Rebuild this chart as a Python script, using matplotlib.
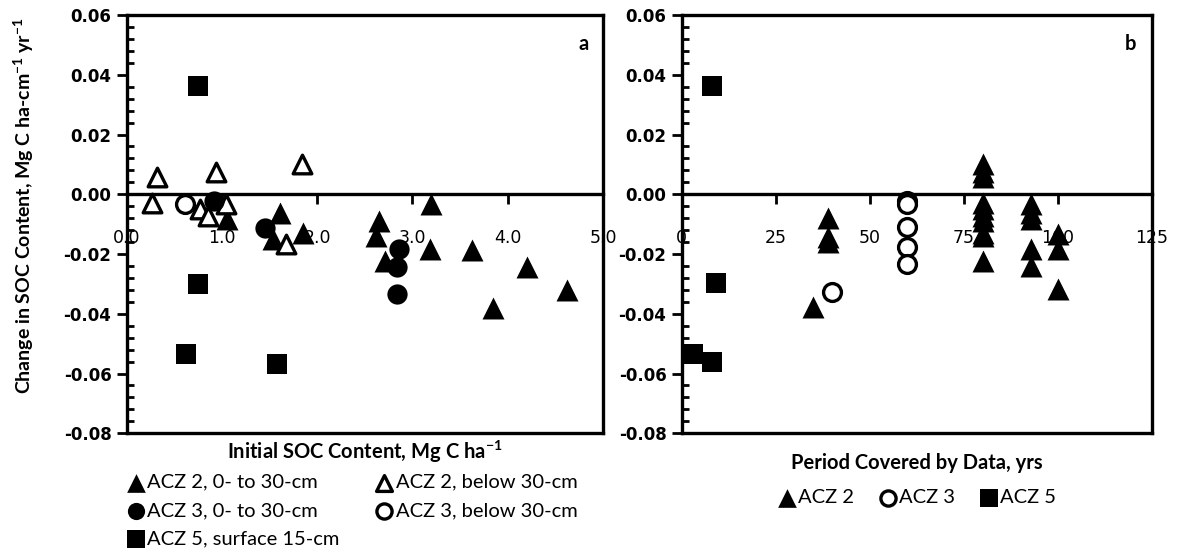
import matplotlib
matplotlib.use("Agg")
import matplotlib.pyplot as plt
from matplotlib.ticker import MultipleLocator, FormatStrFormatter

plt.rcParams['font.family'] = ['Lato', 'DejaVu Sans']
plt.rcParams['mathtext.fontset'] = 'custom'
plt.rcParams['mathtext.rm'] = 'Lato'
plt.rcParams['mathtext.bf'] = 'Lato:bold'

# panel a: initial SOC content (Mg C/ha) vs change in SOC
a_acz2_top_x = [1.05, 1.61, 1.54, 1.85, 2.65, 2.62, 2.71, 3.19, 3.18, 3.62, 4.20, 4.62, 3.84]
a_acz2_top_y = [-0.0083, -0.0064, -0.0150, -0.0128, -0.0089, -0.0139, -0.0222, -0.0033,
                -0.0183, -0.0187, -0.0242, -0.0320, -0.0381]
a_acz2_deep_x = [0.32, 0.27, 0.94, 1.84, 0.77, 0.85, 1.04, 1.67]
a_acz2_deep_y = [0.0058, -0.0028, 0.0076, 0.0100, -0.0050, -0.0072, -0.0031, -0.0167]
a_acz3_top_x = [0.92, 1.45, 2.86, 2.84, 2.84]
a_acz3_top_y = [-0.0022, -0.0114, -0.0183, -0.0242, -0.0333]
a_acz3_deep_x = [0.61]
a_acz3_deep_y = [-0.0033]
a_acz5_x = [0.75, 0.75, 0.62, 1.58]
a_acz5_y = [0.0363, -0.0300, -0.0536, -0.0568]

# panel b: period covered by data (yrs) vs change in SOC
b_acz2_x = [35, 39, 39, 39, 80, 80, 80, 80, 80, 80, 80, 80, 80, 80,
            93, 93, 93, 93, 93, 100, 100, 100]
b_acz2_y = [-0.0378, -0.0078, -0.0144, -0.0160, 0.0100, 0.0076, 0.0058, -0.0028,
            -0.0050, -0.0072, -0.0089, -0.0128, -0.0139, -0.0222,
            -0.0033, -0.0064, -0.0083, -0.0183, -0.0240, -0.0133, -0.0183, -0.0317]
b_acz3_x = [60, 60, 60, 60, 60, 40]
b_acz3_y = [-0.0022, -0.0033, -0.0111, -0.0178, -0.0233, -0.0328]
b_acz5_x = [8, 9, 3, 8]
b_acz5_y = [0.0363, -0.0297, -0.0533, -0.0563]

ms = 250
lw_spine = 2.4

fig = plt.figure(figsize=(11.91, 5.58), dpi=100)
ax1 = fig.add_axes([0.1064, 0.2235, 0.3999, 0.7496])
ax2 = fig.add_axes([0.5724, 0.2235, 0.3946, 0.7496])


def style_axis(ax, xmax, xstep, xfmt):
    ax.set_ylim(-0.08, 0.06)
    ax.set_xlim(0, xmax)
    for s in ax.spines.values():
        s.set_linewidth(lw_spine)
    ax.spines['bottom'].set_position(('data', 0))
    ax.axhline(-0.08, color='black', lw=lw_spine, clip_on=False, zorder=5)
    ax.yaxis.set_major_locator(MultipleLocator(0.02))
    ax.yaxis.set_minor_locator(MultipleLocator(0.004))
    ax.yaxis.set_major_formatter(FormatStrFormatter('%.2f'))
    ax.xaxis.set_major_locator(MultipleLocator(xstep))
    ax.xaxis.set_major_formatter(FormatStrFormatter(xfmt))
    ax.tick_params(axis='y', which='major', direction='out', length=7, width=2,
                   labelsize=12, pad=4, labelfontfamily='DejaVu Sans')
    ax.tick_params(axis='y', which='minor', direction='in', length=5, width=2)
    ax.tick_params(axis='x', which='major', direction='out', length=7, width=2,
                   labelsize=12.5, pad=18, labelfontfamily='DejaVu Sans')


style_axis(ax1, 5.0, 1.0, '%.1f')
style_axis(ax2, 125, 25, '%d')

# panel a series
h1 = ax1.scatter(a_acz2_top_x, a_acz2_top_y, marker='^', s=ms, c='black', linewidths=0,
                 zorder=3, label='ACZ 2, 0- to 30-cm')
h2 = ax1.scatter(a_acz2_deep_x, a_acz2_deep_y, marker='^', s=ms * 0.72, facecolors='white',
                 edgecolors='black', linewidths=2.4, zorder=3, label='ACZ 2, below 30-cm')
h3 = ax1.scatter(a_acz3_top_x, a_acz3_top_y, marker='o', s=ms * 0.85, c='black', linewidths=0,
                 zorder=3, label='ACZ 3, 0- to 30-cm')
h4 = ax1.scatter(a_acz3_deep_x, a_acz3_deep_y, marker='o', s=ms * 0.66, facecolors='white',
                 edgecolors='black', linewidths=2.4, zorder=3, label='ACZ 3, below 30-cm')
h5 = ax1.scatter(a_acz5_x, a_acz5_y, marker='s', s=ms * 0.88, c='black', linewidths=0,
                 zorder=3, label='ACZ 5, surface 15-cm')

# panel b series
g1 = ax2.scatter(b_acz2_x, b_acz2_y, marker='^', s=ms, c='black', linewidths=0,
                 zorder=3, label='ACZ 2')
g2 = ax2.scatter(b_acz3_x, b_acz3_y, marker='o', s=ms * 0.66, facecolors='white',
                 edgecolors='black', linewidths=2.4, zorder=3, label='ACZ 3')
g3 = ax2.scatter(b_acz5_x, b_acz5_y, marker='s', s=ms * 0.88, c='black', linewidths=0,
                 zorder=3, label='ACZ 5')

ax1.text(0.96, 0.93, 'a', transform=ax1.transAxes, fontsize=14.5, fontweight='bold',
         ha='center', va='center')
ax2.text(0.955, 0.93, 'b', transform=ax2.transAxes, fontsize=14.5, fontweight='bold',
         ha='center', va='center')

ax1.set_xlabel(r'Initial SOC Content, Mg C ha$\mathbf{^{-1}}$', fontsize=14.5,
               fontweight='bold')
ax1.xaxis.set_label_coords(0.5, -0.012)
ax2.set_xlabel('Period Covered by Data, yrs', fontsize=14.5, fontweight='bold')
ax2.xaxis.set_label_coords(0.5, -0.048)
ax1.set_ylabel(r'Change in SOC Content, Mg C ha-cm$\mathbf{^{-1}}$ yr$\mathbf{^{-1}}$',
               fontsize=14, fontweight='bold')
ax1.yaxis.set_label_coords(-0.19, 0.545)

fig.legend([h1, h3, h5, h2, h4],
           [h1.get_label(), h3.get_label(), h5.get_label(), h2.get_label(), h4.get_label()],
           ncol=2, loc='upper left', bbox_to_anchor=(0.097, 0.169), frameon=False,
           fontsize=14.5, handletextpad=0.05, columnspacing=1.75, labelspacing=0.56,
           handlelength=1.0, borderpad=0, markerscale=0.85, scatterpoints=1)
fig.legend([g1, g2, g3], [g1.get_label(), g2.get_label(), g3.get_label()],
           ncol=3, loc='upper center', bbox_to_anchor=(0.7695, 0.141), frameon=False,
           fontsize=14.5, handletextpad=0.05, columnspacing=1.2,
           handlelength=1.0, borderpad=0, markerscale=0.85, scatterpoints=1)

fig.canvas.draw()
for ax in (ax1, ax2):
    for t in ax.get_yticklabels():
        t.set_fontweight('bold')

fig.savefig('out.png', dpi=100)
